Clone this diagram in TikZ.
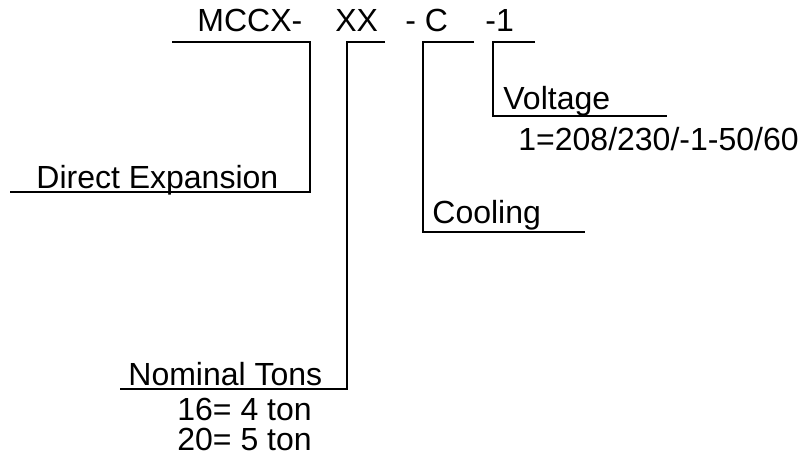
\documentclass[tikz,border=0pt]{standalone}
\usepackage{fontspec}
\setmainfont{Liberation Sans}
\usetikzlibrary{positioning}

\tikzset{
  txt/.style={anchor=base west, inner sep=0pt, font=\fontsize{16}{19}\selectfont},
  leader/.style={draw, line width=0.8pt}
}

\begin{document}
\begin{tikzpicture}[x=0.5pt, y=-0.5pt]
  \useasboundingbox (0,0) rectangle (805,466);
  \node[txt] (mccx) at (197,32) {MCCX-};
  \node[txt] (xx) at (335,32) {XX};
  \node[txt] (c) at (405,32) {- C};
  \node[txt] (one) at (485,32) {-1};
  \node[txt] (volt) at (503,109) {Voltage};
  \node[txt] (voltval) at (518,150) {1=208/230/-1-50/60};
  \node[txt] (cool) at (432,223) {Cooling};
  \node[txt] (dx) at (36,188) {Direct Expansion};
  \node[txt] (tons) at (128,385) {Nominal Tons};
  \node[txt] (ton16) at (177,420) {16= 4 ton};
  \node[txt] (ton20) at (177,450) {20= 5 ton};
  \coordinate (mccx l) at (172,42);
  \coordinate (mccx r) at (310,42);
  \coordinate (dx l) at (10,192);
  \coordinate (xx l) at (347,42);
  \coordinate (xx r) at (385,42);
  \coordinate (tons l) at (120,389);
  \coordinate (c l) at (423,42);
  \coordinate (c r) at (474,42);
  \coordinate (cool r) at (585,232);
  \coordinate (one l) at (493,42);
  \coordinate (one r) at (535,42);
  \coordinate (volt r) at (667,116);
  \draw[leader] (mccx l) -- (mccx r) |- (dx l);
  \draw[leader] (xx r) -- (xx l) |- (tons l);
  \draw[leader] (c r) -- (c l) |- (cool r);
  \draw[leader] (one r) -- (one l) |- (volt r);
\end{tikzpicture}
\end{document}
